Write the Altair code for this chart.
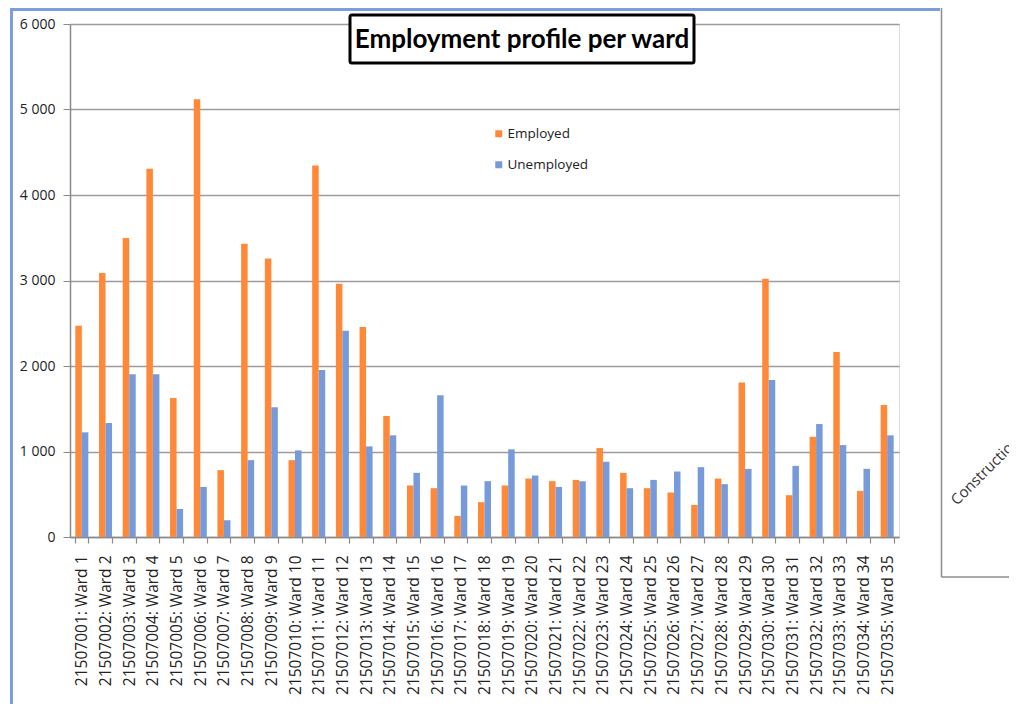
import altair as alt
import pandas as pd

wards = [
    "21507001: Ward 1", "21507002: Ward 2", "21507003: Ward 3", "21507004: Ward 4",
    "21507005: Ward 5", "21507006: Ward 6", "21507007: Ward 7", "21507008: Ward 8",
    "21507009: Ward 9", "21507010: Ward 10", "21507011: Ward 11", "21507012: Ward 12",
    "21507013: Ward 13", "21507014: Ward 14", "21507015: Ward 15", "21507016: Ward 16",
    "21507017: Ward 17", "21507018: Ward 18", "21507019: Ward 19", "21507020: Ward 20",
    "21507021: Ward 21", "21507022: Ward 22", "21507023: Ward 23", "21507024: Ward 24",
    "21507025: Ward 25", "21507026: Ward 26", "21507027: Ward 27", "21507028: Ward 28",
    "21507029: Ward 29", "21507030: Ward 30", "21507031: Ward 31", "21507032: Ward 32",
    "21507033: Ward 33", "21507034: Ward 34", "21507035: Ward 35",
]
employed = [2470, 3088, 3498, 4307, 1626, 5119, 782, 3431, 3256, 899, 4346, 2962,
            2455, 1415, 602, 571, 246, 407, 602, 684, 653, 668, 1040, 750,
            571, 520, 375, 684, 1806, 3021, 489, 1172, 2165, 539, 1544]
unemployed = [1224, 1333, 1904, 1904, 328, 586, 196, 899, 1517, 1013, 1954, 2411,
              1060, 1189, 750, 1658, 602, 653, 1025, 719, 586, 653, 880, 571,
              668, 766, 817, 618, 797, 1837, 832, 1321, 1075, 797, 1189]
series = ["Employed", "Unemployed"]
colors = ["#FF8938", "#779BDA"]
y_ticks = [0, 1000, 2000, 3000, 4000, 5000, 6000]
title_text = "Employment profile per ward"
side_text = "Construction"

rows = []
for w, e, u in zip(wards, employed, unemployed):
    rows.append({"ward": w, "series": series[0], "value": e})
    rows.append({"ward": w, "series": series[1], "value": u})
df = pd.DataFrame(rows)

bars = alt.Chart(df).mark_bar().encode(
    x=alt.X("ward:N", sort=wards, title=None,
            scale=alt.Scale(paddingInner=0.45, paddingOuter=0.225),
            axis=alt.Axis(labelAngle=270, labelFont="Open Sans", labelFontSize=15.5,
                          labelColor="#222222", labelPadding=12, tickBand="extent",
                          tickSize=6, tickColor="#8a8a8a", domainColor="#8a8a8a",
                          domainWidth=1.5, tickWidth=1.2, grid=False, labelLimit=300)),
    xOffset=alt.XOffset("series:N", sort=series),
    y=alt.Y("value:Q", title=None,
            scale=alt.Scale(domain=[0, 6000], nice=False),
            axis=alt.Axis(values=y_ticks,
                          labelExpr="replace(format(datum.value, ','), ',', ' ')",
                          labelFont="Open Sans", labelFontSize=14, labelColor="#222222",
                          labelPadding=8, tickSize=7, tickColor="#8a8a8a",
                          domainColor="#8a8a8a", domainWidth=1.5,
                          gridColor="#9c9c9c", gridWidth=1.4)),
    color=alt.Color("series:N", sort=series,
                    scale=alt.Scale(domain=series, range=colors),
                    legend=alt.Legend(orient="none", legendX=422, legendY=103,
                                      title=None, symbolType="square", symbolSize=49,
                                      symbolStrokeWidth=0, labelFont="Open Sans",
                                      labelFontSize=13.5, labelColor="#222222",
                                      rowPadding=16, labelOffset=2)),
)

one = pd.DataFrame({"k": [0]})

title_box = alt.Chart(one).mark_rect(fill="white", stroke="black", strokeWidth=3,
                                     cornerRadius=2).encode(
    x=alt.value(280), x2=alt.value(624), y=alt.value(-9), y2=alt.value(39))
title_mark = alt.Chart(one).mark_text(text=title_text, font="Lato", fontSize=26,
                                      fontWeight="bold", color="black",
                                      align="center", baseline="middle").encode(
    x=alt.value(452), y=alt.value(16))

frame_top = alt.Chart(one).mark_rule(color="#7B9FDB", strokeWidth=3).encode(
    x=alt.value(-60), x2=alt.value(870), y=alt.value(-14.5))
frame_left = alt.Chart(one).mark_rule(color="#7B9FDB", strokeWidth=3).encode(
    x=alt.value(-58.5), y=alt.value(-16), y2=alt.value(690))
box_left = alt.Chart(one).mark_rule(color="#8c8c8c", strokeWidth=1.5).encode(
    x=alt.value(871.5), y=alt.value(-16), y2=alt.value(553))
box_bottom = alt.Chart(one).mark_rule(color="#8c8c8c", strokeWidth=1.5).encode(
    x=alt.value(871.5), x2=alt.value(960), y=alt.value(553))
side = alt.Chart(one).mark_text(text=side_text, font="Open Sans", fontSize=15,
                                color="#333333", angle=315, align="left",
                                baseline="alphabetic").encode(
    x=alt.value(887), y=alt.value(482))

chart = alt.layer(bars, title_box, title_mark, frame_top, frame_left,
                  box_left, box_bottom, side).properties(
    width=829, height=513,
    padding={"left": 62, "top": 16, "right": 110, "bottom": 167},
    autosize="none",
).configure_view(stroke=None).configure(background="white")

chart.save("out.html", embed_options={"renderer": "svg", "actions": False})
